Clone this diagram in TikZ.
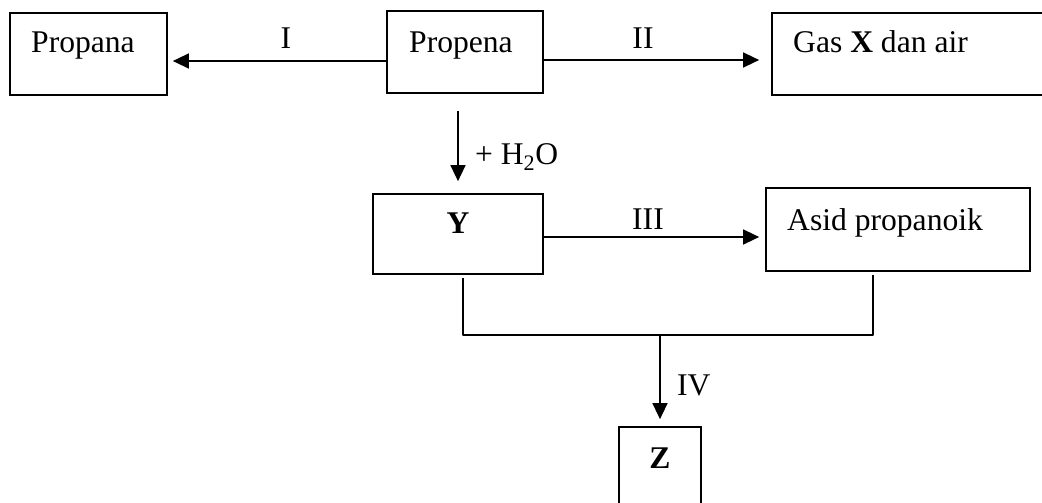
\documentclass[tikz,border=0pt]{standalone}
\usepackage{fontspec}
\setmainfont{Liberation Serif}
\usetikzlibrary{arrows.meta,calc}
\begin{document}
\begin{tikzpicture}[x=1pt,y=-1pt,
  box/.style={draw,line width=1.7pt,inner sep=0pt,rectangle},
  txt/.style={inner sep=0pt,anchor=base west,font=\fontsize{31.6}{38}\selectfont},
  ctxt/.style={inner sep=0pt,anchor=base,font=\fontsize{31.6}{38}\selectfont},
  conn/.style={line width=1.4pt},
  arr/.style={line width=1.4pt,-{Triangle[length=16pt,width=15pt]}}]
\useasboundingbox (0,0) rectangle (1042,503);
\clip (0,0) rectangle (1042,503);
% boxes
\node[box,minimum width=157pt,minimum height=82pt] (propana) at (88.5,54) {};
\node[box,minimum width=156pt,minimum height=82pt] (propena) at (465,52) {};
\node[box,minimum width=300pt,minimum height=82pt] (gasx) at (922,54) {};
\node[box,minimum width=170pt,minimum height=80pt] (y) at (458,234) {};
\node[box,minimum width=264pt,minimum height=83pt] (asid) at (898,229.5) {};
\node[box,minimum width=82pt,minimum height=110pt] (z) at (660,482) {};
% texts
\node[txt] (tpropana) at (31,53) {Propana};
\node[txt] (tpropena) at (409,53) {Propena};
\node[txt] (tgasx) at (793,53) {Gas \textbf{X} dan air};
\node[ctxt] (ty) at (458,233) {\textbf{Y}};
\node[txt] (tasid) at (787,230) {Asid propanoik};
\node[ctxt] (tz) at (660,468) {\textbf{Z}};
% connectors
\draw[arr,shorten >=5pt] ($(propena.west)+(0,9)$) -- ($(propana.east)+(0,7)$);
\node[ctxt] (li) at (286,49) {I};
\draw[arr,shorten >=12pt] ($(propena.east)+(0,8)$) -- ($(gasx.west)+(0,6)$);
\node[ctxt] (lii) at (643,49) {II};
\draw[arr,shorten <=17pt,shorten >=12pt] (propena.south -| y.north) -- (y.north);
\node[txt] (lh2o) at (475,164) {+ H\textsubscript{2}O};
\draw[arr,shorten >=6pt] ($(y.east)+(0,3)$) -- ($(asid.west)+(0,7.5)$);
\node[ctxt] (liii) at (648,229) {III};
\coordinate (jl) at ($(y.south)+(5,60)$);
\coordinate (jr) at ($(asid.south)+(-25,63)$);
\coordinate (jm) at (z.north |- jl);
\draw[conn,line join=round] ($(y.south)+(5,3)$) -- (jl) -- (jr) -- ($(asid.south)+(-25,3)$);
\draw[arr,shorten >=7pt] (jm) -- (z.north);
\node[txt] (liv) at (677,395) {IV};
\end{tikzpicture}
\end{document}
